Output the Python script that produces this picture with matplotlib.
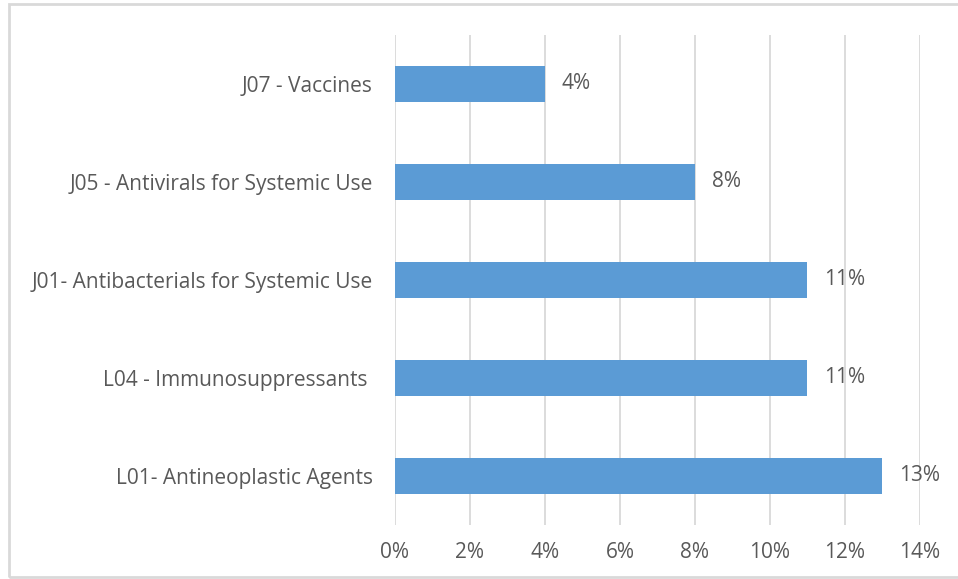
import numpy as np
import matplotlib
matplotlib.use("Agg")
import matplotlib.pyplot as plt
from matplotlib.patches import Rectangle

categories = ["L01- Antineoplastic Agents", "L04 - Immunosuppressants ",
              "J01- Antibacterials for Systemic Use", "J05 - Antivirals for Systemic Use",
              "J07 - Vaccines"]
values = [13, 11, 11, 8, 4]
xticks = [0, 2, 4, 6, 8, 10, 12, 14]

BAR = "#5B9BD5"; TXT = "#595959"; GRID = "#D9D9D9"
plt.rcParams["font.family"] = ["Open Sans", "DejaVu Sans"]
FS = 15

fig = plt.figure(figsize=(9.58, 5.79), dpi=100)
ax = fig.add_axes([0.4123, 0.0933, 0.548, 0.8463])
y = np.arange(len(categories))
ax.barh(y, values, height=0.36, color=BAR, zorder=3)
for yi, v in zip(y, values):
    ax.annotate("%d%%" % v, xy=(v, yi), xytext=(12, 0), textcoords="offset points",
                ha="left", va="center", fontsize=FS, color=TXT)
ax.set_xlim(0, 14); ax.set_ylim(-0.5, len(categories) - 0.5)
ax.set_xticks(xticks)
ax.set_xticklabels(["%d%%" % t for t in xticks], fontsize=FS, color=TXT)
ax.set_yticks(y)
ax.set_yticklabels(categories, fontsize=FS, color=TXT)
ax.tick_params(axis="both", length=0)
ax.tick_params(axis="x", pad=12)
ax.tick_params(axis="y", pad=16)
ax.grid(axis="x", color=GRID, lw=1.3, zorder=0)
for s in ax.spines.values():
    s.set_visible(False)
fig.patches.append(Rectangle((0.009, 0.003), 0.995, 0.99, transform=fig.transFigure,
                             fill=False, edgecolor="#D9D9D9", lw=2))
fig.savefig("out.png", dpi=100)
